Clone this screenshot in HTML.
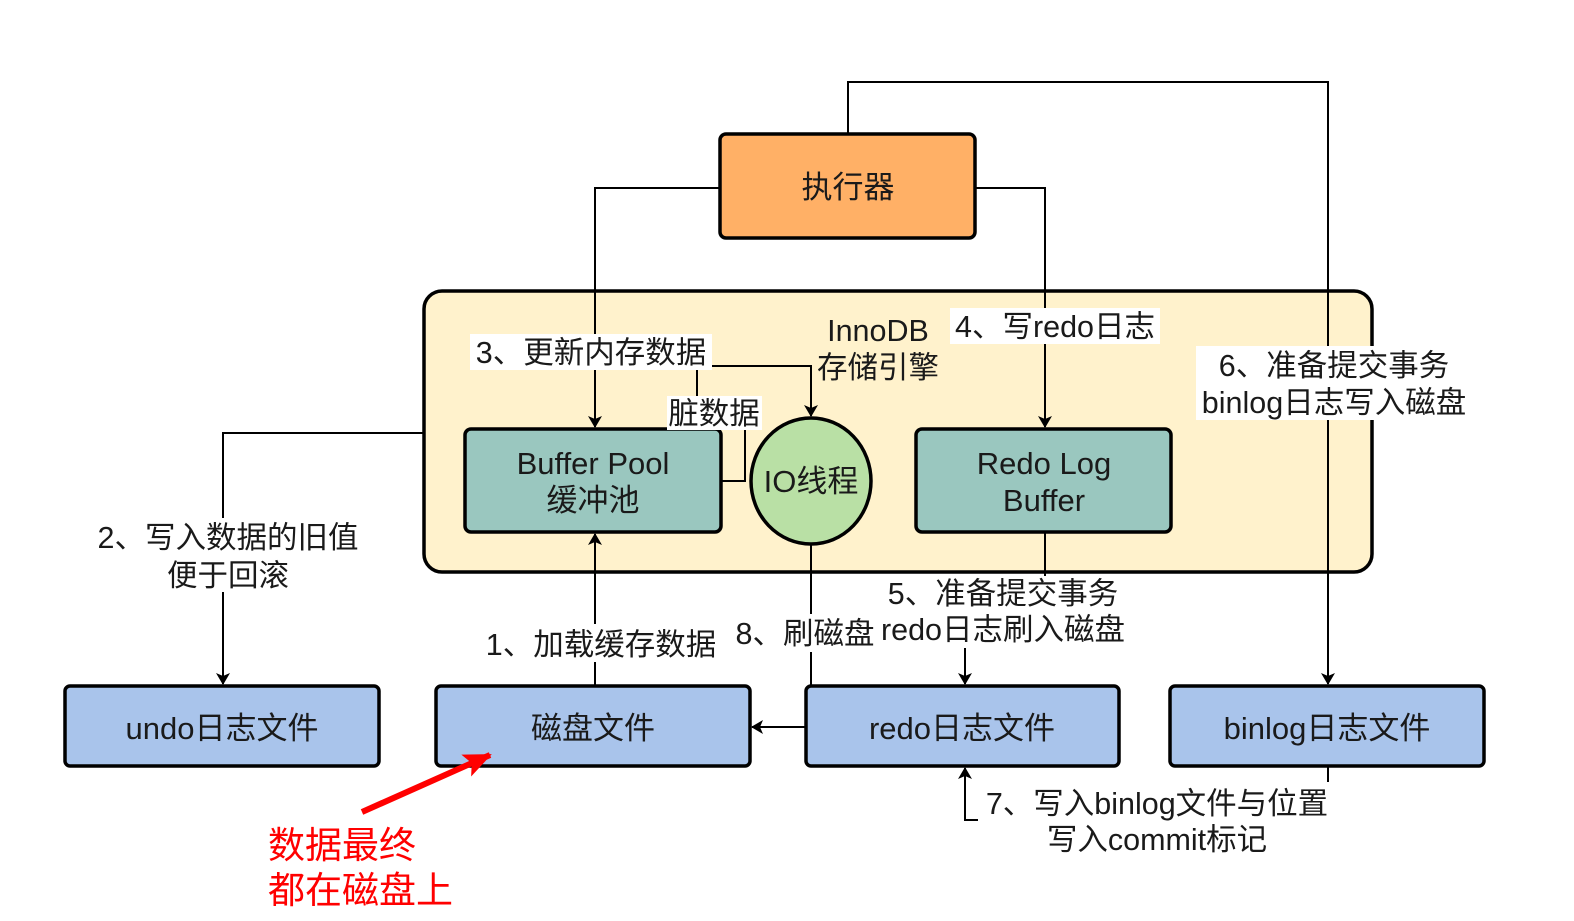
<!DOCTYPE html>
<html><head><meta charset="utf-8"><style>
html,body{margin:0;padding:0;background:#fff;}
svg text{font-family:"Liberation Sans","Noto Sans CJK SC",sans-serif;fill:#1a1a1a;}
</style></head><body>
<svg width="1574" height="916" viewBox="0 0 1574 916" xmlns="http://www.w3.org/2000/svg">
<defs>
<marker id="a" markerWidth="12" markerHeight="14" refX="11" refY="7" orient="auto" markerUnits="userSpaceOnUse">
<path d="M0,0 L12,7 L0,14 L3,7 Z" fill="#000"/></marker>
<marker id="r" markerWidth="30" markerHeight="30" refX="26" refY="15" orient="auto" markerUnits="userSpaceOnUse">
<path d="M0,3 L28,15 L0,27 L6,15 Z" fill="#f00"/></marker>
</defs>
<rect width="1574" height="916" fill="#fff"/>
<rect x="424" y="291" width="948" height="281" rx="18" fill="#FFF2CC" stroke="#000" stroke-width="3.5"/>
<g fill="none" stroke="#000" stroke-width="2">
<path d="M848,134 V82 H1328 V684" marker-end="url(#a)"/>
<path d="M720,188 H595 V427" marker-end="url(#a)"/>
<path d="M975,188 H1045 V427" marker-end="url(#a)"/>
<path d="M710,366 H811 V416" marker-end="url(#a)"/>
<path d="M697,366 V400"/>
<path d="M745,428 V481 H721"/>
<path d="M424,433 H223 V684" marker-end="url(#a)"/>
<path d="M595,686 V534" marker-end="url(#a)"/>
<path d="M811,544 V727 H752" marker-end="url(#a)"/>
<path d="M1045,532 V580"/>
<path d="M965,648 V684" marker-end="url(#a)"/>
<path d="M1328,766 V782"/>
<path d="M978,820 H965 V768" marker-end="url(#a)"/>
</g>
<rect x="720" y="134" width="255" height="104" rx="6" fill="#FFB066" stroke="#000" stroke-width="3.5"/>
<rect x="465" y="429" width="256" height="103" rx="6" fill="#9AC7BF" stroke="#000" stroke-width="3.5"/>
<rect x="916" y="429" width="255" height="103" rx="6" fill="#9AC7BF" stroke="#000" stroke-width="3.5"/>
<ellipse cx="811" cy="481" rx="60" ry="63" fill="#B9E0A5" stroke="#000" stroke-width="3.5"/>
<g fill="#A9C4EB" stroke="#000" stroke-width="3.5">
<rect x="65" y="686" width="314" height="80" rx="5"/>
<rect x="436" y="686" width="314" height="80" rx="5"/>
<rect x="806" y="686" width="313" height="80" rx="5"/>
<rect x="1170" y="686" width="314" height="80" rx="5"/>
</g>
<g fill="#fff">
<rect x="470" y="334" width="242" height="36"/>
<rect x="667" y="396" width="95" height="34"/>
<rect x="950" y="308" width="210" height="36"/>
<rect x="1196" y="346" width="276" height="74"/>
<rect x="88" y="518" width="278" height="74"/>
<rect x="480" y="624" width="242" height="38"/>
<rect x="732" y="614" width="146" height="38"/>
<rect x="886" y="576" width="234" height="72"/>
<rect x="978" y="784" width="358" height="72"/>
</g>
<g font-size="31" text-anchor="middle">
<text x="848" y="198">执行器</text>
<text x="593" y="474">Buffer Pool</text>
<text x="593" y="511">缓冲池</text>
<text x="1044" y="474">Redo Log</text>
<text x="1044" y="511">Buffer</text>
<text x="811" y="492">IO线程</text>
<text x="222" y="739">undo日志文件</text>
<text x="593" y="739">磁盘文件</text>
<text x="962" y="739">redo日志文件</text>
<text x="1327" y="739">binlog日志文件</text>
</g>
<g font-size="30.5" text-anchor="middle">
<text x="878" y="341">InnoDB</text>
<text x="878" y="378">存储引擎</text>
<text x="591" y="363">3、更新内存数据</text>
<text x="714" y="424">脏数据</text>
<text x="1055" y="337">4、写redo日志</text>
<text x="1334" y="376">6、准备提交事务</text>
<text x="1334" y="413">binlog日志写入磁盘</text>
<text x="228" y="548">2、写入数据的旧值</text>
<text x="228" y="586">便于回滚</text>
<text x="601" y="655">1、加载缓存数据</text>
<text x="805" y="644">8、刷磁盘</text>
<text x="1003" y="604">5、准备提交事务</text>
<text x="1003" y="640">redo日志刷入磁盘</text>
<text x="1157" y="814">7、写入binlog文件与位置</text>
<text x="1157" y="850">写入commit标记</text>
</g>
<line x1="362" y1="812" x2="490" y2="755" stroke="#f00" stroke-width="6" marker-end="url(#r)"/>
<g font-size="37">
<text x="268" y="858" style="fill:#f00">数据最终</text>
<text x="268" y="903" style="fill:#f00">都在磁盘上</text>
</g>
</svg>
</body></html>
